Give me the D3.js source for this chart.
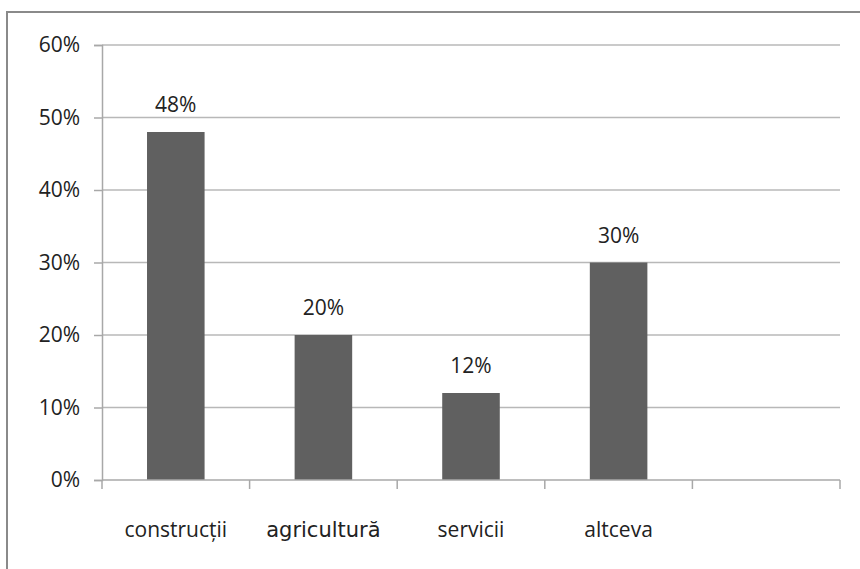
<!DOCTYPE html>
<html>
<head>
<meta charset="utf-8">
<script src="https://cdn.jsdelivr.net/npm/d3@7"></script>
<style>
  body { margin: 0; background: #fff; }
  svg { display: block; }
</style>
</head>
<body>
<div id="chart"></div>
<script>
// categories on the x axis, the last slot stays empty
const categories = ["construcții", "agricultură", "servicii", "altceva", ""];
const values = [0.48, 0.20, 0.12, 0.30, null];
const yTicks = [0, 0.1, 0.2, 0.3, 0.4, 0.5, 0.6];

const width = 860, height = 569;
const margin = { top: 45, right: 20, bottom: 89, left: 102 };

const svg = d3.select("#chart")
  .append("svg")
  .attr("width", width)
  .attr("height", height);

// outer frame (only top and left edges are visible)
svg.append("rect")
  .attr("x", 7)
  .attr("y", 12)
  .attr("width", 900)
  .attr("height", 600)
  .attr("fill", "none")
  .attr("stroke", "#8a8a8a")
  .attr("stroke-width", 2);

const x = d3.scaleBand()
  .domain(d3.range(categories.length))
  .range([margin.left, 840])
  .paddingInner(0.61)
  .paddingOuter(0.305);

const xBand = d3.scaleBand()
  .domain(d3.range(categories.length))
  .range([margin.left, 840]);

const y = d3.scaleLinear()
  .domain([0, 0.6])
  .range([480, margin.top]);

// gridlines
svg.append("g")
  .selectAll("line")
  .data(yTicks.slice(1))
  .join("line")
  .attr("x1", margin.left)
  .attr("x2", 840)
  .attr("y1", d => y(d))
  .attr("y2", d => y(d))
  .attr("stroke", "#b8b8b8")
  .attr("stroke-width", 1.5);

// y axis
const yAxis = svg.append("g")
  .attr("transform", `translate(${margin.left},0)`)
  .call(d3.axisLeft(y).tickValues(yTicks).tickFormat(d3.format(".0%")).tickSize(8).tickPadding(14));
yAxis.select(".domain").attr("stroke", "#a8a8a8").attr("stroke-width", 1.5);
yAxis.selectAll(".tick line").attr("stroke", "#a8a8a8").attr("stroke-width", 1.5);
yAxis.selectAll("text")
  .attr("font-family", "'Open Sans', sans-serif")
  .attr("font-size", 21)
  .attr("fill", "#222");

// bars
svg.append("g")
  .selectAll("rect")
  .data(values.map((v, i) => ({ v, i })).filter(d => d.v !== null))
  .join("rect")
  .attr("x", d => x(d.i))
  .attr("width", x.bandwidth())
  .attr("y", d => y(d.v))
  .attr("height", d => y(0) - y(d.v))
  .attr("fill", "#606060");

// value labels
svg.append("g")
  .selectAll("text")
  .data(values.map((v, i) => ({ v, i })).filter(d => d.v !== null))
  .join("text")
  .attr("x", d => x(d.i) + x.bandwidth() / 2)
  .attr("y", d => y(d.v) - 20)
  .attr("text-anchor", "middle")
  .attr("font-family", "'Open Sans', sans-serif")
  .attr("font-size", 21)
  .attr("fill", "#222")
  .text(d => d3.format(".0%")(d.v));

// x axis line and ticks at band boundaries
const xAxisG = svg.append("g");
xAxisG.append("line")
  .attr("x1", margin.left)
  .attr("x2", 840)
  .attr("y1", y(0))
  .attr("y2", y(0))
  .attr("stroke", "#a8a8a8")
  .attr("stroke-width", 1.5);
xAxisG.selectAll("line.tick")
  .data(d3.range(categories.length + 1))
  .join("line")
  .attr("class", "tick")
  .attr("x1", i => i < categories.length ? xBand(i) : 840)
  .attr("x2", i => i < categories.length ? xBand(i) : 840)
  .attr("y1", y(0))
  .attr("y2", y(0) + 9)
  .attr("stroke", "#a8a8a8")
  .attr("stroke-width", 1.5);

// category labels
xAxisG.selectAll("text")
  .data(categories)
  .join("text")
  .attr("x", (d, i) => xBand(i) + xBand.bandwidth() / 2)
  .attr("y", 537)
  .attr("text-anchor", "middle")
  .attr("font-family", (d, i) => i === 1 ? "'DejaVu Sans', sans-serif" : "'Open Sans', sans-serif")
  .attr("font-size", (d, i) => i === 1 ? 21 : 21)
  .attr("fill", "#222")
  .text(d => d);
</script>
</body>
</html>
